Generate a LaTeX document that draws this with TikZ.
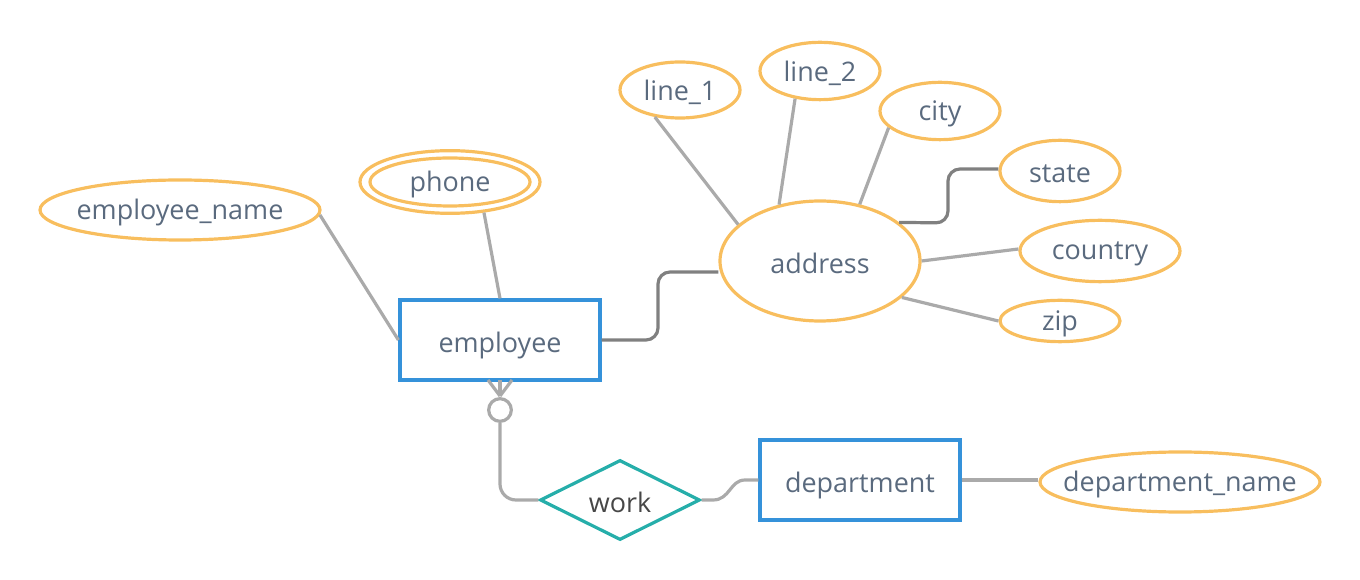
\documentclass[tikz,border=0pt]{standalone}
\usepackage{fontspec}
\setmainfont{Open Sans}
\usetikzlibrary{shapes.geometric,calc}
\definecolor{attr}{HTML}{F8BE5E}
\definecolor{ent}{HTML}{3592DA}
\definecolor{rel}{HTML}{26AEAA}
\definecolor{txt}{HTML}{5A6A7E}
\definecolor{lgrey}{HTML}{AAAAAA}
\definecolor{dgrey}{HTML}{808080}
\tikzset{
  lbl/.style={font=\fontsize{20.2}{23}\selectfont},
  attrib/.style={ellipse, draw=attr, line width=2.4pt, inner sep=0pt},
  albl/.style={label={[lbl, text=txt, inner sep=0pt, yshift=-2pt]center:#1}},
  entity/.style={rectangle, draw=ent, line width=2.4pt, minimum width=150pt, minimum height=60pt},
  elbl/.style={label={[lbl, text=txt, inner sep=0pt, yshift=-4pt]center:#1}},
  relship/.style={diamond, draw=rel, line width=2.4pt, minimum width=120pt, minimum height=60pt, inner sep=0pt, aspect=2},
  rlbl/.style={label={[lbl, text=black!72, inner sep=0pt, yshift=-2pt]center:#1}},
  conn/.style={draw=lgrey, line width=2.4pt},
  dconn/.style={draw=dgrey, line width=2.4pt, rounded corners=9pt},
}
\begin{document}
\begin{tikzpicture}[x=0.75pt,y=-0.75pt]
\useasboundingbox (0,0) rectangle (1360,580);
% entities
\node[entity, elbl={employee}] (emp) at (500,340) {};
\node[entity, elbl={department}] (dep) at (860,480) {};
\node[relship, rlbl={work}] (work) at (620,500) {};
% attributes
\node[attrib, minimum width=210pt, minimum height=45pt, albl={employee\_name}] (ename) at (180,210) {};
\node[attrib, minimum width=120pt, minimum height=36pt, albl={phone}] (phone) at (450,182) {};
\node[attrib, minimum width=135pt, minimum height=47pt] (phoneo) at (450,182) {};
\node[attrib, minimum width=150pt, minimum height=90pt, albl={address}] (addr) at (820,261) {};
\node[attrib, minimum width=90pt, minimum height=42pt, albl={line\_1}] (l1) at (680,90) {};
\node[attrib, minimum width=90pt, minimum height=43pt, albl={line\_2}] (l2) at (820,71) {};
\node[attrib, minimum width=90pt, minimum height=43pt, albl={city}] (city) at (940,111) {};
\node[attrib, minimum width=90pt, minimum height=46pt, albl={state}] (state) at (1060,171) {};
\node[attrib, minimum width=120pt, minimum height=46pt, albl={country}] (country) at (1100,251) {};
\node[attrib, minimum width=90pt, minimum height=31pt, albl={zip}] (zip) at (1060,321) {};
\node[attrib, minimum width=210pt, minimum height=45pt, albl={department\_name}] (dname) at (1180,482) {};
% connectors
\draw[conn] (ename.-2) -- (emp.west);
\draw[conn] (phoneo.-42) -- (emp.north);
\draw[dconn] (emp.east) -- (658,340) -- (658,272) -- (addr.west |- 0,272);
\draw[conn] (l1.227) -- (addr.156);
\draw[conn] (l2.228) -- (addr.126);
\draw[conn] (city.198) -- (addr.55);
\draw[dconn] (addr.26) -- (948,223) -- (948,169) -- (state.west |- 0,169);
\draw[conn] (addr.east) -- (country.west |- 0,249);
\draw[conn] (addr.-24) -- (zip.west);
\draw[conn] (dep.east) -- (dname.west |- dep.east);
\draw[conn] (work.east) -- (713,500) .. controls (730,500) and (730,480) .. (745,480) -- (dep.west |- 0,480);
% crow's foot
\coordinate (cft) at (500,396);
\draw[conn] (488,380) -- (cft);
\draw[conn] (500,380) -- (cft);
\draw[conn] (512,380) -- (cft);
\node[circle, draw=lgrey, line width=2.4pt, minimum size=17pt, inner sep=0pt, fill=white] (cfc) at (500,410) {};
\draw[conn, rounded corners=12pt] (cfc.south) -- (500,500) -- (work.west);
\end{tikzpicture}
\end{document}
